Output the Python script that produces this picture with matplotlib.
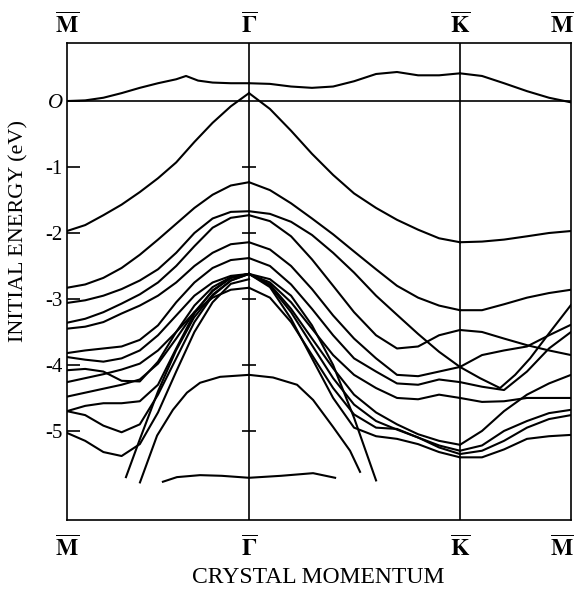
import matplotlib
matplotlib.use("Agg")
import matplotlib.pyplot as plt

plt.rcParams['font.family'] = ['Liberation Serif', 'DejaVu Serif']
plt.rcParams['mathtext.fontset'] = 'stix'

# symmetry points along the path (M - Gamma - K - M)
k_M1, k_G, k_K, k_M2 = 0.0, 1.0, 2.159, 2.769
sym_k = [k_M1, k_G, k_K, k_M2]
sym_labels = [r'$\overline{\mathbf{M}}$', r'$\overline{\mathbf{\Gamma}}$',
              r'$\overline{\mathbf{K}}$', r'$\overline{\mathbf{M}}$']

# common k grids of the three segments
k_MG = [0.0, 0.1, 0.2, 0.3, 0.4, 0.5, 0.6, 0.7, 0.8, 0.9, 1.0]
k_GK = [1.0, 1.115, 1.231, 1.346, 1.462, 1.577, 1.698, 1.813, 1.929, 2.044, 2.159]
k_KM = [2.159, 2.280, 2.401, 2.527, 2.648, 2.769]

# surface band above E_F
top_k = [0.0, 0.1, 0.2, 0.3, 0.4, 0.5, 0.6, 0.654, 0.72, 0.8, 0.9, 1.0]
top_E = [0.0, 0.01, 0.05, 0.12, 0.2, 0.27, 0.33, 0.38, 0.31, 0.28, 0.27, 0.27]
top_GK = [0.27, 0.26, 0.22, 0.2, 0.22, 0.3, 0.41, 0.44, 0.39, 0.39, 0.42]
top_KM = [0.42, 0.38, 0.27, 0.15, 0.05, -0.02]

# bands on M-Gamma
mg_bands = [
    [-1.97, -1.88, -1.73, -1.57, -1.38, -1.17, -0.93, -0.62, -0.33, -0.08, 0.12],
    [-2.83, -2.78, -2.68, -2.53, -2.33, -2.1, -1.86, -1.62, -1.42, -1.28, -1.23],
    [-3.06, -3.02, -2.95, -2.85, -2.72, -2.55, -2.3, -2.0, -1.78, -1.68, -1.67],
    [-3.36, -3.3, -3.2, -3.07, -2.93, -2.75, -2.5, -2.2, -1.92, -1.77, -1.73],
    [-3.45, -3.42, -3.35, -3.22, -3.1, -2.95, -2.75, -2.5, -2.3, -2.17, -2.14],
    [-3.82, -3.78, -3.75, -3.72, -3.62, -3.4, -3.05, -2.75, -2.53, -2.41, -2.38],
    [-3.88, -3.92, -3.95, -3.9, -3.78, -3.55, -3.25, -2.95, -2.75, -2.65, -2.62],
    [-4.08, -4.06, -4.1, -4.24, -4.25, -3.95, -3.5, -3.1, -2.82, -2.67, -2.62],
    [-4.26, -4.2, -4.14, -4.07, -3.98, -3.78, -3.5, -3.2, -2.98, -2.86, -2.83],
    [-4.48, -4.42, -4.36, -4.3, -4.22, -3.98, -3.6, -3.2, -2.88, -2.68, -2.62],
    [-4.7, -4.62, -4.58, -4.58, -4.55, -4.3, -3.75, -3.22, -2.87, -2.68, -2.62],
    [-4.7, -4.76, -4.92, -5.02, -4.9, -4.45, -3.9, -3.35, -2.95, -2.72, -2.62],
    [-5.03, -5.15, -5.32, -5.38, -5.2, -4.72, -4.1, -3.5, -3.05, -2.77, -2.7],
]

# bands on Gamma-K
gk_bands = [
    [0.12, -0.12, -0.45, -0.8, -1.12, -1.4, -1.62, -1.8, -1.95, -2.08, -2.14],
    [-1.23, -1.35, -1.55, -1.78, -2.02, -2.28, -2.55, -2.8, -2.98, -3.1, -3.17],
    [-1.67, -1.71, -1.83, -2.03, -2.3, -2.6, -2.95, -3.24, -3.53, -3.8, -4.03],
    [-1.73, -1.82, -2.05, -2.4, -2.8, -3.2, -3.55, -3.75, -3.72, -3.55, -3.47],
    [-2.14, -2.25, -2.5, -2.85, -3.25, -3.6, -3.9, -4.15, -4.17, -4.1, -4.03],
    [-2.38, -2.5, -2.78, -3.15, -3.55, -3.9, -4.1, -4.28, -4.3, -4.22, -4.26],
    [-2.62, -2.75, -3.05, -3.45, -3.85, -4.15, -4.35, -4.5, -4.52, -4.45, -4.5],
    [-2.62, -2.78, -3.15, -3.6, -4.05, -4.45, -4.72, -4.9, -5.05, -5.15, -5.21],
    [-2.62, -2.8, -3.2, -3.7, -4.2, -4.6, -4.85, -4.98, -5.1, -5.22, -5.3],
    [-2.83, -2.98, -3.35, -3.85, -4.35, -4.75, -4.95, -4.97, -5.1, -5.25, -5.35],
    [-2.62, -2.82, -3.3, -3.9, -4.5, -4.95, -5.08, -5.12, -5.2, -5.32, -5.4],
]

# bands on K-M
km_bands = [
    [-2.14, -2.13, -2.1, -2.05, -2.0, -1.97],
    [-3.17, -3.17, -3.08, -2.98, -2.91, -2.86],
    [-3.47, -3.5, -3.6, -3.7, -3.78, -3.85],
    [-4.03, -3.85, -3.78, -3.72, -3.55, -3.39],
    [-4.26, -4.33, -4.38, -4.1, -3.75, -3.5],
    [-4.5, -4.56, -4.55, -4.5, -4.5, -4.5],
    [-5.21, -5.0, -4.7, -4.45, -4.28, -4.15],
    [-5.3, -5.22, -5.0, -4.85, -4.73, -4.68],
    [-5.35, -5.3, -5.15, -4.95, -4.82, -4.76],
    [-5.4, -5.4, -5.28, -5.12, -5.08, -5.06],
]

# band with the V-shaped minimum after K
v_k = [2.159, 2.269, 2.379, 2.462, 2.544, 2.654, 2.769]
v_E = [-4.03, -4.2, -4.35, -4.15, -3.9, -3.5, -3.09]

# isolated pieces
g_k = [0.401, 0.495, 0.582, 0.659, 0.731, 0.841, 1.0, 1.132, 1.264, 1.352, 1.462, 1.555, 1.61]
g_E = [-5.78, -5.07, -4.68, -4.42, -4.27, -4.18, -4.15, -4.19, -4.3, -4.53, -4.94, -5.3, -5.62]
pl_k = [0.324, 0.401, 0.5, 0.599, 0.698, 0.802, 0.901, 1.0]
pl_E = [-5.7, -5.12, -4.4, -3.78, -3.28, -2.93, -2.72, -2.62]
pr_k = [1.0, 1.115, 1.231, 1.346, 1.462, 1.577, 1.698]
pr_E = [-2.62, -2.7, -2.95, -3.4, -4.0, -4.8, -5.75]
f_k = [0.527, 0.604, 0.731, 0.85, 1.0, 1.176, 1.352, 1.473]
f_E = [-5.77, -5.7, -5.67, -5.68, -5.71, -5.68, -5.64, -5.71]

fig = plt.figure(figsize=(5.74, 5.92), dpi=100)
ax = fig.add_axes([0.1167, 0.1216, 0.8781, 0.8058])

lw = 1.5
ax.plot(top_k, top_E, color='k', lw=lw)
ax.plot(k_GK, top_GK, color='k', lw=lw)
ax.plot(k_KM, top_KM, color='k', lw=lw)
for b in mg_bands:
    ax.plot(k_MG, b, color='k', lw=lw)
for b in gk_bands:
    ax.plot(k_GK, b, color='k', lw=lw)
for b in km_bands:
    ax.plot(k_KM, b, color='k', lw=lw)
ax.plot(v_k, v_E, color='k', lw=lw)
for kk, ee in [(g_k, g_E), (pl_k, pl_E), (pr_k, pr_E), (f_k, f_E)]:
    ax.plot(kk, ee, color='k', lw=lw)

# reference lines
ax.axhline(0, color='k', lw=1.2)
ax.axvline(k_G, color='k', lw=1.2)
ax.axvline(k_K, color='k', lw=1.2)
ax.plot([k_G] * 5, [-1, -2, -3, -4, -5], ls='none', marker='_', ms=10, mew=1.2, color='k')

ax.set_xlim(k_M1, k_M2)
ax.set_ylim(-6.35, 0.88)
ax.set_xticks([])
ax.set_yticks([-5, -4, -3, -2, -1, 0])
ax.set_yticklabels(['-5', '-4', '-3', '-2', '-1', 'O'], fontsize=15)
ax.get_yticklabels()[-1].set_style('italic')
ax.tick_params(axis='y', direction='in', length=9, width=1.2, pad=3)
for s in ax.spines.values():
    s.set_linewidth(1.2)

for kk, lab in zip(sym_k, sym_labels):
    xx = kk if kk < k_M2 else k_M2 - 0.05
    ax.text(xx, 1.036, lab, transform=ax.get_xaxis_transform(), ha='center', va='center', fontsize=17)
    ax.text(xx, -0.06, lab, transform=ax.get_xaxis_transform(), ha='center', va='center', fontsize=17)

fig.text(0.555, 0.024, 'CRYSTAL MOMENTUM', ha='center', va='center', fontsize=17)
fig.text(0.032, 0.61, 'INITIAL ENERGY (eV)', ha='center', va='center', rotation=90, fontsize=16)

fig.savefig('out.png', dpi=100)
